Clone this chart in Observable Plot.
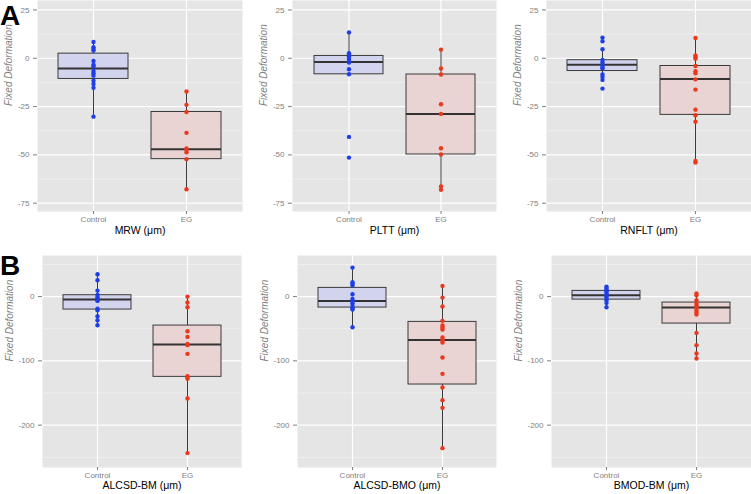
<!DOCTYPE html>
<html><head><meta charset="utf-8">
<script src="https://cdn.jsdelivr.net/npm/d3@7"></script>
<script src="https://cdn.jsdelivr.net/npm/@observablehq/plot@0.6"></script>
<style>
body{margin:0;background:#fff;}
#wrap{position:relative;width:751px;height:494px;overflow:hidden;font-family:"Liberation Sans",Arial,sans-serif;}
.panel{position:absolute;}
.tag{position:absolute;font-weight:bold;font-size:28px;line-height:1;font-family:"Liberation Sans",Arial,sans-serif;}
</style></head><body>
<div id="wrap"></div>
<script>
// ---- data ----
const categories = ["Control", "EG"];
const yTitle = "Fixed Deformation";
const titles = ["MRW (μm)", "PLTT (μm)", "RNFLT (μm)", "ALCSD-BM (μm)", "ALCSD-BMO (μm)", "BMOD-BM (μm)"];
const ticksTop = [25, 0, -25, -50, -75];
const minorTop = [12.5, -12.5, -37.5, -62.5];
const ticksBottom = [0, -100, -200];
const minorBottom = [50, -50, -150, -250];

const mrwControl = [8.4, 5.7, 4.8, 4.0, -1.4, -3.4, -4.1, -6.6, -7.8, -9.0, -11.6, -13.3, -15.3, -30.2];
const mrwEG = [-17.2, -24.1, -27.8, -38.6, -46.7, -47.4, -48.6, -52.2, -67.8];
const plttControl = [13.4, 2.6, 1.9, 1.0, -0.2, -1.4, -2.2, -5.7, -8.3, -40.7, -51.4];
const plttEG = [4.5, -5.3, -8.4, -23.8, -28.8, -46.6, -49.8, -66.4, -68.1];
const rnfltControl = [10.7, 8.8, 4.7, -0.9, -2.2, -3.4, -4.5, -5.2, -8.4, -9.7, -11.2, -15.7];
const rnfltEG = [10.5, 1.4, 0.5, -0.2, -4.0, -6.7, -7.8, -10.9, -16.2, -26.6, -29.5, -32.8, -53.1, -54.0];
const alcsdBmControl = [34.7, 25.4, 9.3, 2.6, -1.0, -3.6, -5.7, -6.7, -18.7, -21.2, -30.6, -36.8, -44.6];
const alcsdBmEG = [0, -9.3, -16.6, -53.9, -62.7, -73.6, -75.6, -89.1, -123.8, -126.4, -128, -158.5, -243.5];
const alcsdBmoControl = [45.1, 22.3, 20.2, 17.6, 3.6, -3.6, -6.7, -10.4, -14.5, -18.1, -20.2, -47.7];
const alcsdBmoEG = [16.6, -1.6, -15.5, -37.8, -45.1, -48.2, -51.3, -63.7, -67.9, -71.5, -94.8, -120.2, -141.5, -161.1, -173.1, -235.8];
const bmodBmControl = [15.5, 13.5, 10.9, 8.3, 5.7, 3.1, 0.5, -2.1, -5.7, -9.8, -16.6];
const bmodBmEG = [4.7, 2.1, -5.7, -9.8, -13.5, -17.1, -21.2, -24.9, -28, -56.5, -75.6, -88.6, -96.4];

// box stats per group: [lower whisker, Q1, median, Q3, upper whisker]
const mrwStats = [[-30.2, -10.7, -5.3, 2.4, 8.4], [-67.8, -52.2, -47.1, -27.8, -17.2]];
const plttStats = [[-8.3, -8.3, -1.9, 1.2, 13.4], [-68.1, -49.8, -28.8, -8.4, 4.5]];
const rnfltStats = [[-11.2, -6.6, -3.4, -1.0, 4.7], [-54.0, -29.3, -10.7, -4.0, 10.5]];
const alcsdBmStats = [[-44.6, -20.2, -4.7, 2.1, 34.7], [-243.5, -124.9, -74.6, -45.1, 0]];
const alcsdBmoStats = [[-47.7, -17.1, -6.7, 13.5, 45.1], [-235.8, -136.8, -67.4, -39.4, 16.6]];
const bmodBmStats = [[-16.6, -4.7, 2.1, 8.8, 15.5], [-96.4, -42, -17.1, -9.3, 4.7]];

const pointColors = ["#1f3fe6", "#e8391f"];
const boxFills = ["#d2d3ec", "#e9d3d3"];

// ---- layout ----
const rows = [
  {top: 0, height: 240, mt: 0, mb: 29, domain: [-79.3, 29.9], ticks: ticksTop, minor: minorTop, titleDx: -29, xTitleDy: 22},
  {top: 240, height: 254, mt: 15, mb: 27, domain: [-265.9, 63.9], ticks: ticksBottom, minor: minorBottom, titleDx: -33, xTitleDy: 21}
];
const panels = [
  {row: 0, fl: 37, fw: 205, control: mrwControl, eg: mrwEG, stats: mrwStats, title: titles[0]},
  {row: 0, fl: 292, fw: 204, control: plttControl, eg: plttEG, stats: plttStats, title: titles[1]},
  {row: 0, fl: 546, fw: 205, control: rnfltControl, eg: rnfltEG, stats: rnfltStats, title: titles[2]},
  {row: 1, fl: 42, fw: 199, control: alcsdBmControl, eg: alcsdBmEG, stats: alcsdBmStats, title: titles[3]},
  {row: 1, fl: 297, fw: 199, control: alcsdBmoControl, eg: alcsdBmoEG, stats: alcsdBmoStats, title: titles[4]},
  {row: 1, fl: 551, fw: 200, control: bmodBmControl, eg: bmodBmEG, stats: bmodBmStats, title: titles[5]}
];

const wrap = document.getElementById("wrap");
const ML = 45;
const font = '"Liberation Sans", Arial, sans-serif';

for (const p of panels) {
  const r = rows[p.row];
  const pts = [
    ...p.control.map(v => ({g: categories[0], v})),
    ...p.eg.map(v => ({g: categories[1], v}))
  ];
  const boxes = categories.map((g, i) => ({
    g, i, lo: p.stats[i][0], q1: p.stats[i][1], med: p.stats[i][2], q3: p.stats[i][3], hi: p.stats[i][4]
  }));
  const chart = Plot.plot({
    width: p.fw + ML,
    height: r.height,
    marginLeft: ML, marginRight: 0, marginTop: r.mt, marginBottom: r.mb,
    style: {fontFamily: font, background: "transparent", overflow: "visible"},
    x: {domain: categories, paddingInner: 0.25, paddingOuter: 0.225, axis: null},
    y: {domain: r.domain, axis: null},
    marks: [
      Plot.frame({fill: "#e5e5e5", stroke: null}),
      Plot.ruleY(r.minor, {stroke: "#f2f2f2", strokeWidth: 0.7}),
      Plot.ruleY(r.ticks, {stroke: "#ffffff", strokeWidth: 1.2}),
      Plot.gridX({stroke: "#ffffff", strokeOpacity: 1, strokeWidth: 1.2}),
      Plot.axisY({ticks: r.ticks, tickSize: 4, tickPadding: 4, fontSize: 8, color: "#7f7f7f", label: null, tickFormat: d => String(d)}),
      Plot.axisX({tickSize: 3, tickPadding: 2, fontSize: 8, color: "#7f7f7f", label: null}),
      Plot.ruleX(boxes, {x: "g", y1: "q3", y2: "hi", stroke: "#3a3a3a", strokeWidth: 1}),
      Plot.ruleX(boxes, {x: "g", y1: "lo", y2: "q1", stroke: "#3a3a3a", strokeWidth: 1}),
      Plot.barY(boxes, {x: "g", y1: "q1", y2: "q3", fill: d => boxFills[d.i], stroke: "#3a3a3a", strokeWidth: 1}),
      Plot.tickY(boxes, {x: "g", y: "med", stroke: "#333333", strokeWidth: 2}),
      Plot.dot(pts, {x: "g", y: "v", r: 2.2, fill: d => pointColors[categories.indexOf(d.g)], stroke: null}),
      Plot.text([p.title], {text: d => d, frameAnchor: "bottom", dy: r.xTitleDy, fontSize: 10.5, fill: "#000"}),
      Plot.text([yTitle], {text: d => d, frameAnchor: "left", rotate: -90, dx: r.titleDx, fontSize: 10, fontStyle: "italic", fill: "#7f7f7f"})
    ]
  });
  chart.classList.add("panel");
  chart.style.left = (p.fl - ML) + "px";
  chart.style.top = r.top + "px";
  wrap.appendChild(chart);
}

for (const [t, top] of [["A", 2], ["B", 252]]) {
  const d = document.createElement("div");
  d.className = "tag";
  d.textContent = t;
  d.style.left = "0px";
  d.style.top = top + "px";
  wrap.appendChild(d);
}
</script>
</body></html>
